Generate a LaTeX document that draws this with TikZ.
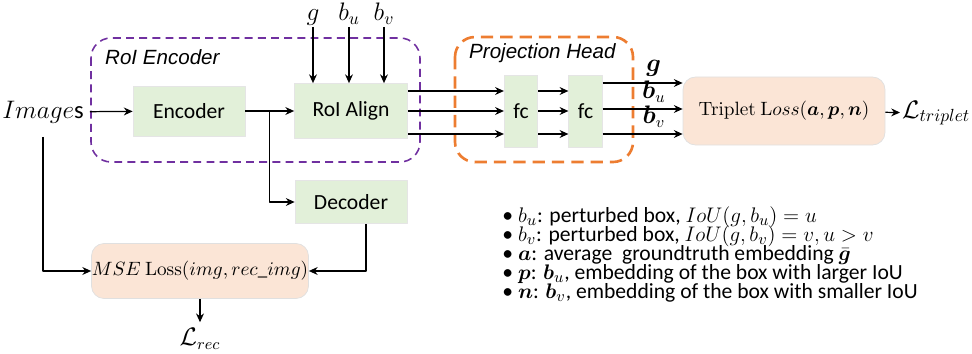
\documentclass[tikz,border=0pt]{standalone}
\usepackage{amsmath,bm}
\usepackage[no-math]{fontspec}
\setmainfont{Carlito}
\newfontfamily\arialfont{Liberation Sans}
\usetikzlibrary{arrows.meta,calc}
\definecolor{boxgreen}{HTML}{E2F0D9}
\definecolor{losspeach}{HTML}{FBE5D6}
\definecolor{encpurple}{HTML}{7030A0}
\definecolor{headorange}{HTML}{ED7D31}
\newcommand{\tightlines}{\lineskiplimit=-20pt\relax}

\begin{document}
\begin{tikzpicture}[x=0.2mm,y=-0.2mm,line join=round,>={Stealth[length=5pt,width=4.5pt]},
	block/.style={draw=black!10,fill=boxgreen,inner sep=0pt,minimum width=22.4mm,minimum height=10mm},
	fcbox/.style={block,minimum width=6.7mm,minimum height=14.4mm},
	lossbox/.style={draw=black!12,fill=losspeach,rounded corners=2.5mm,inner sep=0pt},
	conn/.style={->,line width=0.7pt},
	grouplbl/.style={anchor=west,font=\arialfont\itshape\fontsize{11.7}{14}\selectfont},
	toplbl/.style={font=\fontsize{14}{16}\selectfont,text height=1.6ex,text depth=0.5ex,inner sep=1pt}]
	\tikzset{every node/.style={font=\fontsize{12.3}{14}\selectfont}}
	\useasboundingbox (0,0) rectangle (972,354);
	% dashed groups
	\draw[encpurple,line width=0.9pt,dash pattern=on 4.5pt off 3pt,rounded corners=4mm] (91,38) rectangle (420,162);
	\draw[headorange,line width=1.5pt,dash pattern=on 7pt off 4pt,rounded corners=4mm] (455,37) rectangle (633,162);
	\node[grouplbl] (enclbl) at (99,57) {RoI Encoder};
	\node[grouplbl] (headlbl) at (463,53) {Projection Head};
	% blocks
	\node[block] (enc) at (189,111) {Encoder};
	\node[block,minimum width=22.6mm,minimum height=11mm] (align) at (351,111) {RoI Align};
	\node[block,minimum height=8.6mm] (dec) at (351,202) {Decoder};
	\node[fcbox] (fc1) at (521,111) {fc};
	\node[fcbox] (fc2) at (585.5,111) {fc};
	\node[lossbox,minimum width=40.4mm,minimum height=13.6mm,font=\fontsize{11}{14}\selectfont] (trip) at (784,111) {$\mathrm{Triplet\ L}oss(\bm{a},\bm{p},\bm{n})$};
	\node[lossbox,minimum width=43.4mm,minimum height=11mm,font=\fontsize{10.8}{14}\selectfont] (mse) at (200,271) {$MSE\ \mathrm{Loss}(img,rec\_img)$};
	% labels
	\node[font=\fontsize{14}{16}\selectfont] (img) at (43,112) {$Image$s};
	\node[font=\fontsize{13.5}{15}\selectfont] (lrec) at (200,339) {$\mathcal{L}_{rec}$};
	\node[anchor=west,inner sep=1pt,font=\fontsize{14.5}{17}\selectfont] (ltrip) at (900,113) {$\mathcal{L}_{triplet}$};
	\node[toplbl] (lg) at (313,16) {$g$};
	\node[toplbl] (lbu) at (349,16) {$b_u$};
	\node[toplbl] (lbv) at (384,16) {$b_v$};
	% connectors
	\foreach \n in {lg,lbu,lbv}
		\draw[conn] (\n) -- (\n |- align.north);
	\draw[conn] (img) -- (enc);
	\draw[conn] (enc) -- (align);
	\coordinate (br) at ($(enc.east)!0.5!(align.west)$);
	\draw[conn] (br) |- (dec);
	\draw[conn] ([xshift=3mm]dec.south) |- (mse.east);
	\draw[conn] ([yshift=-1.5mm]img.south) |- (mse.west);
	\draw[conn] (mse) -- (lrec);
	\foreach \dy in {4,0,-4.6}
		\draw[conn] ([yshift=\dy mm]align.east) -- ([yshift=\dy mm]fc1.west);
	\foreach \dy in {4,0,-4.6}
		\draw[conn] ([yshift=\dy mm]fc1.east) -- ([yshift=\dy mm]fc2.west);
	\foreach \dy/\lbl in {5.6/{\bm{g}},0.4/{\bm{b}_u},-4.6/{\bm{b}_v}}
		\draw[conn] ([yshift=\dy mm]fc2.east) -- node[above,pos=0.64,font=\fontsize{13.5}{15}\selectfont] {$\lbl$} ([yshift=\dy mm]trip.west);
	\draw[conn] (trip) -- (ltrip);
	% legend
	\node[anchor=north west,align=left,inner sep=0pt,
		font=\fontsize{12.3}{10.9}\selectfont\tightlines] (legend) at (502,206)
		{\textbullet\hspace{1mm}$b_u$: perturbed box, $IoU(g,b_u)=u$\\
		\textbullet\hspace{1mm}$b_v$: perturbed box, $IoU(g,b_v)=v,u>v$\\
		\textbullet\hspace{1mm}$\bm{a}$: average\ \ groundtruth embedding $\bar{\bm{g}}$\\
		\textbullet\hspace{1mm}$\bm{p}$: $\bm{b}_u$, embedding of the box with larger IoU\\
		\textbullet\hspace{1mm}$\bm{n}$: $\bm{b}_v$, embedding of the box with smaller IoU};
\end{tikzpicture}
\end{document}
